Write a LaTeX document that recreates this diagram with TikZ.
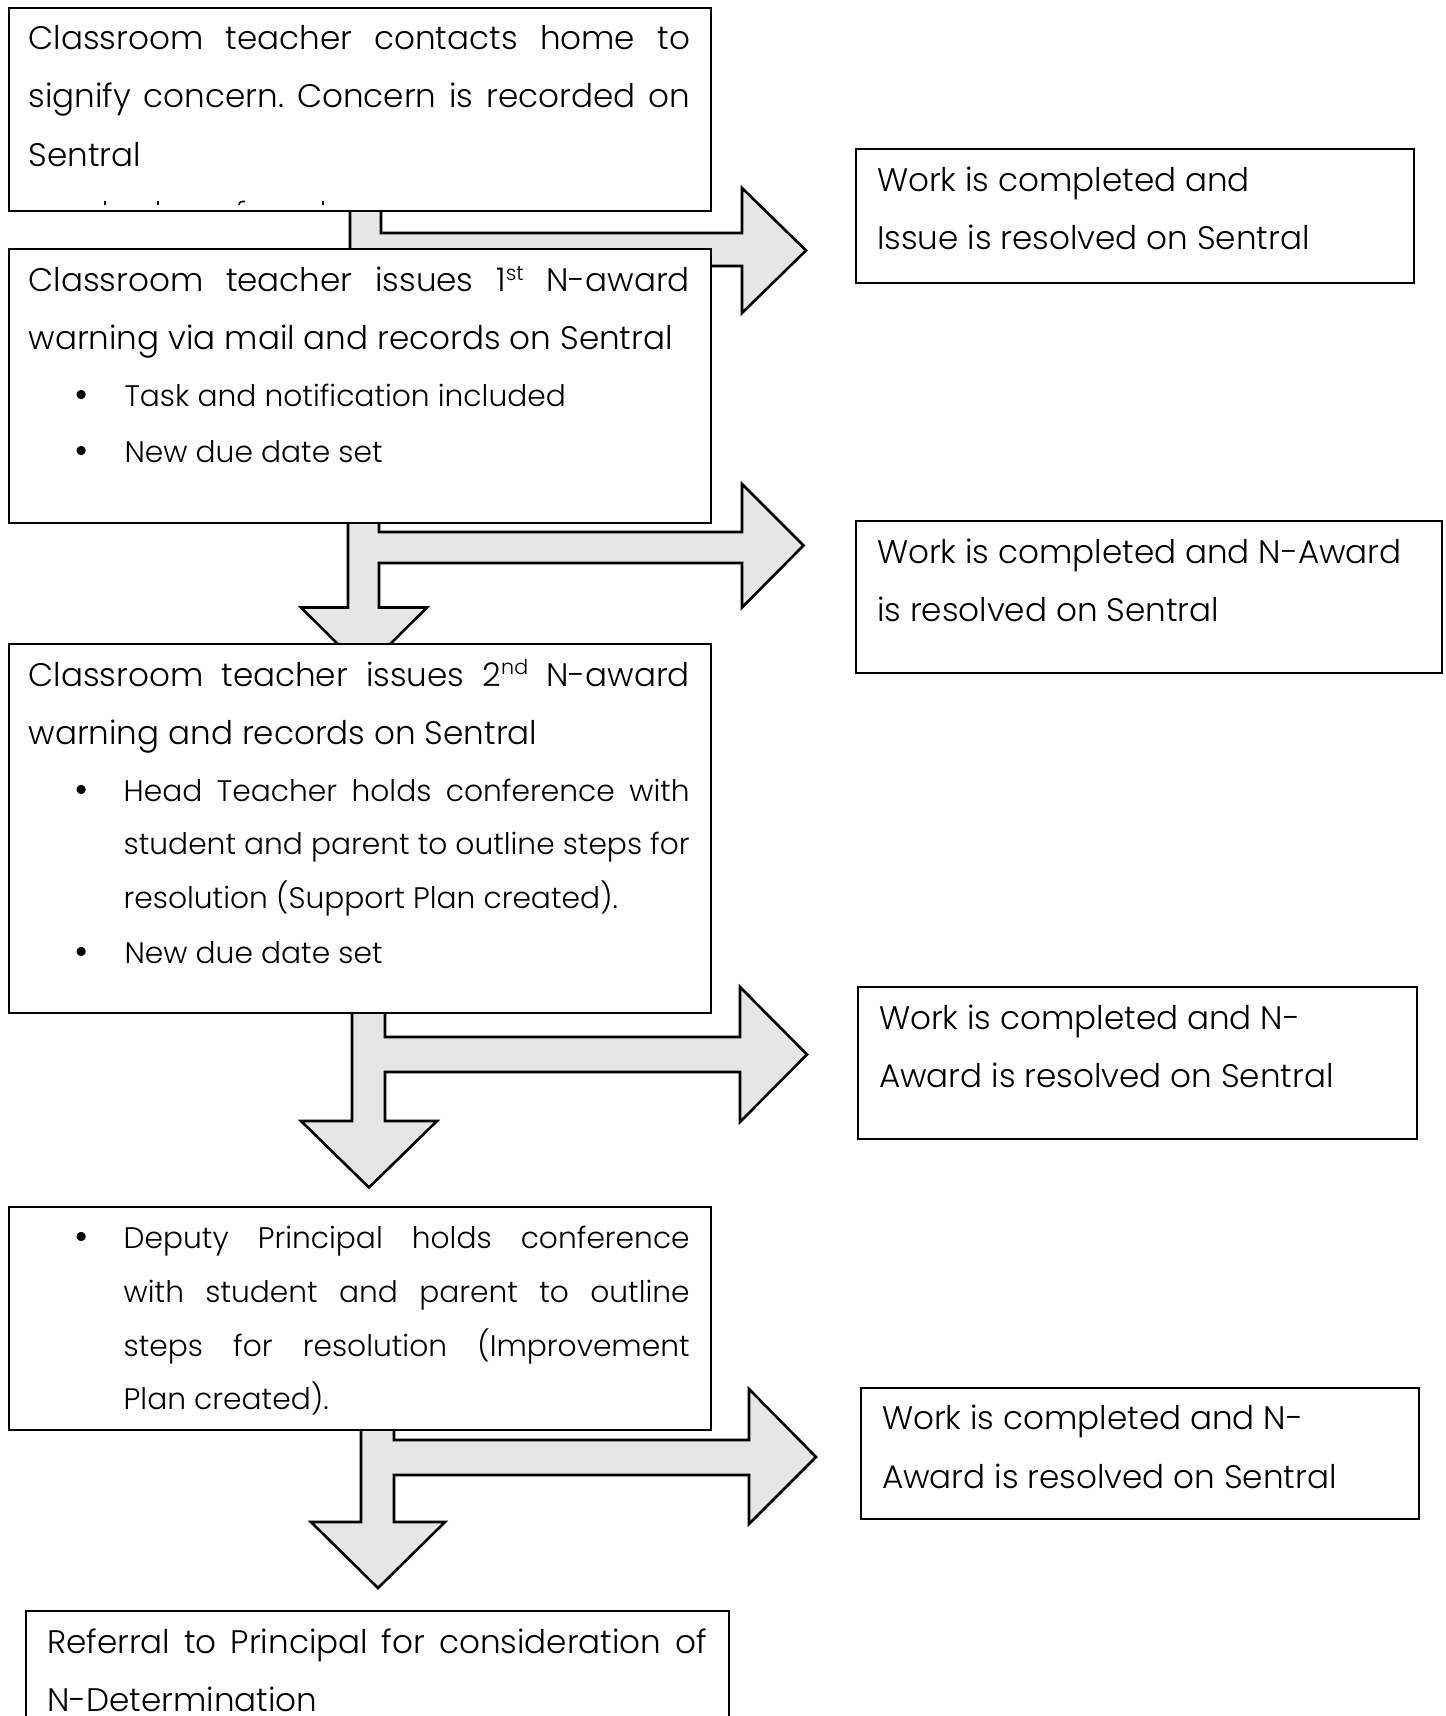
\documentclass[tikz,border=0pt]{standalone}
\usepackage{fontspec}
\setmainfont{Poppins Light}
\newfontfamily\bulfam{DejaVu Sans}
\definecolor{arrowgray}{HTML}{E6E6E6}
\newcommand\mybody{\fontsize{16.3pt}{20pt}\selectfont}
\newcommand\mysmall{\fontsize{14.85pt}{18pt}\selectfont}
\newcommand\mysup[1]{\raisebox{5.6pt}{\fontsize{10.3pt}{10.3pt}\selectfont #1}}
\frenchspacing
\begin{document}
\begin{tikzpicture}[x=0.5pt,y=-0.5pt,
  box/.style={draw=black,line width=1pt,fill=white,rectangle,inner sep=0,outer sep=0,anchor=north west},
  arr/.style={draw=black,line width=1.3pt,fill=arrowgray,line join=miter},
  txt/.style={anchor=base west,inner sep=0,outer sep=0,font=\mybody},
  stxt/.style={anchor=base west,inner sep=0,outer sep=0,font=\mysmall},
  bul/.style={anchor=base,inner sep=0,outer sep=0,font=\bulfam\fontsize{15.5pt}{18pt}\selectfont}]
\useasboundingbox (0,0) rectangle (1445,1716);
\clip (0,0) rectangle (1445,1716);
\fill[white] (0,0) rectangle (1445,1716);

% block arrows (drawn first, boxes cover parts of them)
\draw[arr] (350,190) -- (381,190) -- (381,233) -- (742,233) -- (742,188) -- (806,250.5) -- (742,313) -- (742,266) -- (381,266) -- (381,300) -- (431,300) -- (365.5,366) -- (300,300) -- (350,300) -- cycle;
\draw[arr] (348,490) -- (379,490) -- (379,532) -- (742,532) -- (742,484) -- (803.5,545.5) -- (742,607.5) -- (742,563) -- (379,563) -- (379,607.5) -- (427,607.5) -- (364,670) -- (301,607.5) -- (348,607.5) -- cycle;
\draw[arr] (352,990) -- (385,990) -- (385,1037) -- (740,1037) -- (740,987) -- (807,1054.5) -- (740,1122) -- (740,1072) -- (385,1072) -- (385,1121) -- (437,1121) -- (369,1187.5) -- (301,1121) -- (352,1121) -- cycle;
\draw[arr] (361,1400) -- (394,1400) -- (394,1440) -- (749,1440) -- (749,1389) -- (816,1457) -- (749,1524) -- (749,1475) -- (394,1475) -- (394,1522) -- (445,1522) -- (378,1588) -- (311,1522) -- (361,1522) -- cycle;

% left boxes
\node[box,minimum width=351pt,minimum height=101.5pt] (b1) at (9,8) {};
\node[box,minimum width=351pt,minimum height=137pt] (b2) at (9,249) {};
\node[box,minimum width=351pt,minimum height=184.5pt] (b3) at (9,644) {};
\node[box,minimum width=351pt,minimum height=111.5pt] (b4) at (9,1207) {};
\node[box,minimum width=351.5pt,minimum height=70pt] (b5) at (26,1611) {};

% right boxes
\node[box,minimum width=279pt,minimum height=67pt] (r1) at (856,149) {};
\node[box,minimum width=293pt,minimum height=76pt] (r2) at (856,521) {};
\node[box,minimum width=279.5pt,minimum height=76pt] (r3) at (858,987) {};
\node[box,minimum width=279pt,minimum height=65.5pt] (r4) at (861,1388) {};

% box 1 text
\node[txt] (t11) at (28.5,50) {\makebox[330.75pt][s]{Classroom teacher contacts home to}};
\node[txt] (t12) at (28.5,108) {\makebox[330.75pt][s]{signify concern. Concern is recorded on}};
\node[txt] (t13) at (28.5,166.7) {Sentral};
\draw[line width=0.8pt] (105,201.5) -- (105,205) (158,201.5) -- (158,205) (323,201.5) -- (323,205);
\draw[line width=0.8pt] (239,205) .. controls (240,201.5) .. (245,201.5);

% box 2 text
\node[txt] (t21) at (28.5,292) {\makebox[330.75pt][s]{Classroom teacher issues 1\mysup{st} N-award}};
\node[txt] (t22) at (28.5,350) {warning via mail and records on Sentral};
\node[bul] (u21) at (82,407) {•};
\node[stxt] (t23) at (124.5,407) {Task and notification included};
\node[bul] (u22) at (82,463) {•};
\node[stxt] (t24) at (124.5,463) {New due date set};

% box 3 text
\node[txt] (t31) at (28.5,686) {\makebox[330.75pt][s]{Classroom teacher issues 2\mysup{nd} N-award}};
\node[txt] (t32) at (28.5,744) {warning and records on Sentral};
\node[bul] (u31) at (82,801) {•};
\node[stxt] (t33) at (123.7,801) {\makebox[283pt][s]{Head Teacher holds conference with}};
\node[stxt] (t34) at (123.7,854.6) {\makebox[283pt][s]{student and parent to outline steps for}};
\node[stxt] (t35) at (123.7,908) {resolution (Support Plan created).};
\node[bul] (u32) at (82,963) {•};
\node[stxt] (t36) at (124.5,963) {New due date set};

% box 4 text
\node[bul] (u41) at (82,1248.7) {•};
\node[stxt] (t41) at (123.7,1248.7) {\makebox[283pt][s]{Deputy Principal holds conference}};
\node[stxt] (t42) at (123.7,1302) {\makebox[283pt][s]{with student and parent to outline}};
\node[stxt] (t43) at (123.7,1356) {\makebox[283pt][s]{steps for resolution (Improvement}};
\node[stxt] (t44) at (123.7,1409.6) {Plan created).};

% box 5 text
\node[txt] (t51) at (47,1653.8) {\makebox[330pt][s]{Referral to Principal for consideration of}};
\node[txt] (t52) at (47,1711.8) {N-Determination};

% right box texts
\node[txt] (s11) at (877,191.2) {Work is completed and};
\node[txt] (s12) at (877,249.2) {Issue is resolved on Sentral};
\node[txt] (s21) at (877,563.4) {Work is completed and N-Award};
\node[txt] (s22) at (877,621.5) {is resolved on Sentral};
\node[txt] (s31) at (879,1029.8) {Work is completed and N-};
\node[txt] (s32) at (879,1087.8) {Award is resolved on Sentral};
\node[txt] (s41) at (882,1429.3) {Work is completed and N-};
\node[txt] (s42) at (882,1488.5) {Award is resolved on Sentral};
\end{tikzpicture}
\end{document}
